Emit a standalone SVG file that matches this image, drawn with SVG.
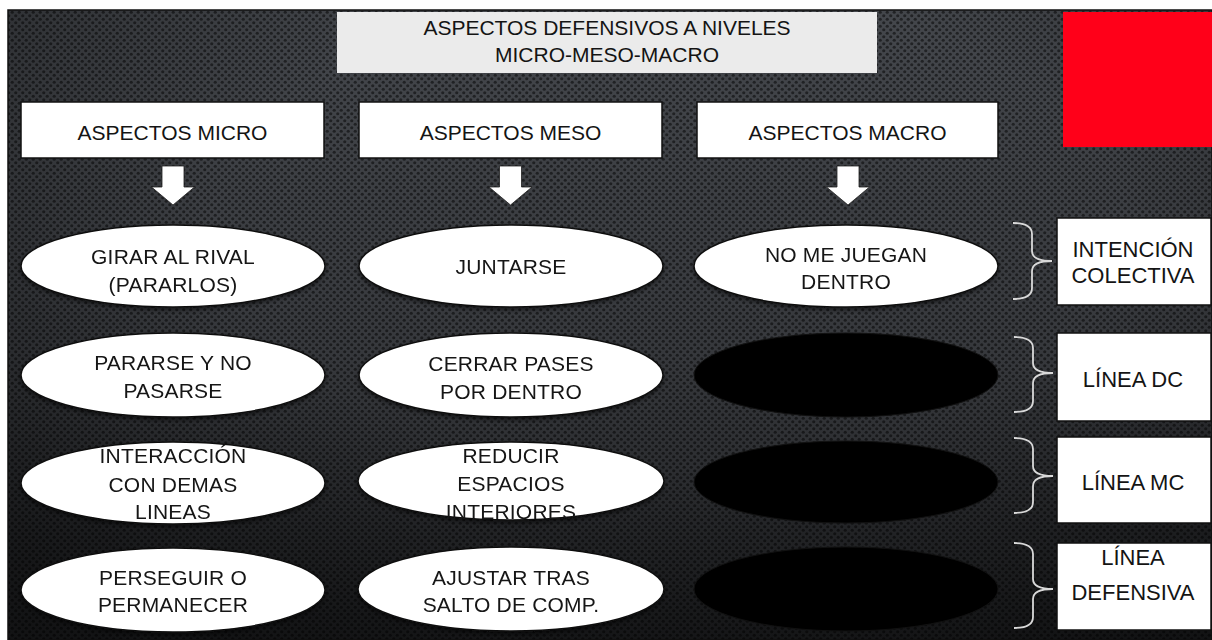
<svg xmlns="http://www.w3.org/2000/svg" width="1212" height="640" viewBox="0 0 1212 640">
<style>
.t{font-family:"Liberation Sans",Arial,sans-serif;fill:#141414;text-anchor:middle}
.h{font-size:21px}
.e{font-size:21px;letter-spacing:0.2px}
.r{font-size:22px}
.box{fill:#fff;stroke:#111;stroke-width:1.5}
.ell{fill:#fff;stroke:#111;stroke-width:1.5}
.blk{fill:#000;stroke:#111;stroke-width:1}
.arrow{fill:#fff;stroke:#222;stroke-width:0.8}
.brace{fill:none;stroke:#d9d9d9;stroke-width:1.8}
</style>
<defs>
<pattern id="dots" width="7" height="7" patternUnits="userSpaceOnUse">
<circle cx="1.75" cy="1.75" r="1.6" fill="#000" fill-opacity="0.5"/>
<circle cx="5.25" cy="5.25" r="1.6" fill="#000" fill-opacity="0.5"/>
</pattern>
<linearGradient id="bg" x1="0" y1="0" x2="0" y2="1">
<stop offset="0" stop-color="#44474c"/>
<stop offset="0.55" stop-color="#36383c"/>
<stop offset="1" stop-color="#1e1f21"/>
</linearGradient>
<radialGradient id="vig" cx="0.55" cy="0.35" r="0.75">
<stop offset="0.5" stop-color="#000" stop-opacity="0"/>
<stop offset="1" stop-color="#000" stop-opacity="0.4"/>
</radialGradient>
<filter id="sh" x="-10%" y="-20%" width="120%" height="150%">
<feDropShadow dx="0" dy="2" stdDeviation="2" flood-color="#000" flood-opacity="0.6"/>
</filter>
</defs>
<rect width="1212" height="640" fill="#fff"/>
<g id="background">
<rect x="8" y="10" width="1204" height="630" fill="url(#bg)"/>
<rect x="8" y="10" width="1204" height="630" fill="url(#dots)"/>
<rect x="8" y="10" width="1204" height="630" fill="url(#vig)"/>
<rect x="8" y="10" width="1204" height="630" fill="none" stroke="#111" stroke-width="1.5"/>
</g>
<g id="title">
<rect x="337" y="12" width="540" height="61" fill="#ebebeb"/>
<text class="t h" x="607" y="35">ASPECTOS DEFENSIVOS A NIVELES</text>
<text class="t h" x="607" y="62">MICRO-MESO-MACRO</text>
</g>
<g id="red-box"><rect x="1063" y="12" width="149" height="135" fill="#ff0019"/></g>
<g id="header-micro"><rect class="box" x="21" y="102" width="303" height="56"/><text class="t h" x="172.5" y="140">ASPECTOS MICRO</text></g>
<g id="header-meso"><rect class="box" x="359" y="102" width="303" height="56"/><text class="t h" x="510.5" y="140">ASPECTOS MESO</text></g>
<g id="header-macro"><rect class="box" x="697" y="102" width="301" height="56"/><text class="t h" x="847.5" y="140">ASPECTOS MACRO</text></g>
<g id="connectors">
<polygon class="arrow" points="162,166 184,166 184,187 194.5,187 173,205 151.5,187 162,187"/>
<polygon class="arrow" points="499.5,166 521.5,166 521.5,187 532,187 510.5,205 489,187 499.5,187"/>
<polygon class="arrow" points="837,166 859,166 859,187 869.5,187 848,205 826.5,187 837,187"/>
<path class="brace" d="M1013,223 Q1032,223 1032,234 L1032,251 Q1032,261 1052,261 Q1032,261 1032,271 L1032,288 Q1032,299 1013,299"/>
<path class="brace" d="M1014,337 Q1033,337 1033,348 L1033,363 Q1033,373 1053,373 Q1033,373 1033,383 L1033,401 Q1033,412 1014,412"/>
<path class="brace" d="M1014,438 Q1033,438 1033,449 L1033,466 Q1033,476 1053,476 Q1033,476 1033,486 L1033,502 Q1033,513 1014,513"/>
<path class="brace" d="M1014,543 Q1033,543 1033,554 L1033,579 Q1033,589 1053,589 Q1033,589 1033,599 L1033,617 Q1033,628 1014,628"/>
</g>
<g id="micro-1" filter="url(#sh)"><ellipse class="ell" cx="173" cy="266" rx="152" ry="41"/><text class="t e" x="173" y="264">GIRAR AL RIVAL</text><text class="t e" x="173" y="292">(PARARLOS)</text></g>
<g id="micro-2" filter="url(#sh)"><ellipse class="ell" cx="173" cy="375" rx="152" ry="42"/><text class="t e" x="173" y="370">PARARSE Y NO</text><text class="t e" x="173" y="398">PASARSE</text></g>
<g id="micro-3" filter="url(#sh)"><ellipse class="ell" cx="173" cy="483" rx="152" ry="41"/><text class="t e" x="173" y="463">INTERACCIÓN</text><text class="t e" x="173" y="492">CON DEMAS</text><text class="t e" x="173" y="519">LINEAS</text></g>
<g id="micro-4" filter="url(#sh)"><ellipse class="ell" cx="173" cy="590" rx="152" ry="42"/><text class="t e" x="173" y="585">PERSEGUIR O</text><text class="t e" x="173" y="612">PERMANECER</text></g>
<g id="meso-1" filter="url(#sh)"><ellipse class="ell" cx="511" cy="266" rx="152" ry="41"/><text class="t e" x="511" y="274">JUNTARSE</text></g>
<g id="meso-2" filter="url(#sh)"><ellipse class="ell" cx="511" cy="375" rx="152" ry="42"/><text class="t e" x="511" y="371">CERRAR PASES</text><text class="t e" x="511" y="399">POR DENTRO</text></g>
<g id="meso-3" filter="url(#sh)"><ellipse class="ell" cx="511" cy="481" rx="153" ry="39"/><text class="t e" x="511" y="463">REDUCIR</text><text class="t e" x="511" y="491">ESPACIOS</text><text class="t e" x="511" y="519">INTERIORES</text></g>
<g id="meso-4" filter="url(#sh)"><ellipse class="ell" cx="511" cy="589" rx="153" ry="42"/><text class="t e" x="511" y="585">AJUSTAR TRAS</text><text class="t e" x="511" y="612">SALTO DE COMP.</text></g>
<g id="macro-1" filter="url(#sh)"><ellipse class="ell" cx="846" cy="266" rx="152" ry="41"/><text class="t e" x="846" y="262">NO ME JUEGAN</text><text class="t e" x="846" y="289">DENTRO</text></g>
<g id="macro-2"><ellipse class="blk" cx="846" cy="375" rx="152" ry="42"/></g>
<g id="macro-3"><ellipse class="blk" cx="846" cy="482" rx="152" ry="41"/></g>
<g id="macro-4"><ellipse class="blk" cx="846" cy="589" rx="152" ry="42"/></g>
<g id="label-1"><rect class="box" x="1057" y="218" width="154" height="87"/><text class="t r" x="1133" y="257">INTENCIÓN</text><text class="t r" x="1133" y="283">COLECTIVA</text></g>
<g id="label-2"><rect class="box" x="1057" y="333" width="154" height="88"/><text class="t r" x="1133" y="387">LÍNEA DC</text></g>
<g id="label-3"><rect class="box" x="1057" y="437" width="154" height="86"/><text class="t r" x="1133" y="490">LÍNEA MC</text></g>
<g id="label-4"><rect class="box" x="1057" y="543" width="154" height="87"/><text class="t r" x="1133" y="565">LÍNEA</text><text class="t r" x="1133" y="600">DEFENSIVA</text></g>
</svg>
